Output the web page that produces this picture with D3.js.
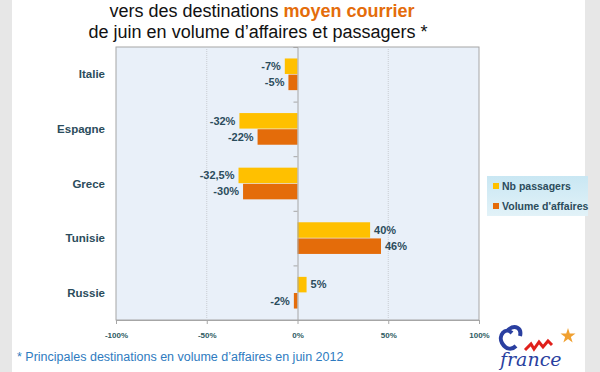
<!DOCTYPE html>
<html>
<head>
<meta charset="utf-8">
<script src="https://cdn.jsdelivr.net/npm/d3@7"></script>
<style>
  body { margin: 0; background: #e7e7e7; }
  svg { display: block; }
</style>
</head>
<body>
<svg id="chart" width="600" height="372"></svg>
<script>
const categories = ['Italie', 'Espagne', 'Grece', 'Tunisie', 'Russie'];
const seriesNames = ['Nb passagers', "Volume d'affaires"];
const passagers = [-7, -32, -32.5, 40, 5];
const affaires = [-5, -22, -30, 46, -2];
const passagersLabels = ['-7%', '-32%', '-32,5%', '40%', '5%'];
const affairesLabels = ['-5%', '-22%', '-30%', '46%', '-2%'];
const ticks = [-100, -50, 0, 50, 100];

const colors = ['#ffc000', '#e46c0a'];
const textColor = '#2b4c5c';

const svg = d3.select('#chart');

// page
svg.append('rect').attr('x', 12).attr('y', 0).attr('width', 573).attr('height', 372).attr('fill', '#ffffff');

// title
const title = svg.append('g').attr('font-family', 'Liberation Sans, Arial, sans-serif').attr('font-size', 18).attr('text-anchor', 'middle');
const t1 = title.append('text').attr('x', 262).attr('y', 17).attr('fill', '#111');
t1.append('tspan').text('vers des destinations ');
t1.append('tspan').attr('fill', '#e46c0a').attr('font-weight', 'bold').text('moyen courrier');
title.append('text').attr('x', 258).attr('y', 38).attr('fill', '#111').text('de juin en volume d\u2019affaires et passagers *');

const plot = { left: 116, top: 47, right: 479, bottom: 320 };

const x = d3.scaleLinear().domain([-100, 100]).range([plot.left, plot.right]);
const y = d3.scaleBand().domain(categories).range([plot.top, plot.bottom]).paddingInner(0.42).paddingOuter(0.21);
const ySub = d3.scaleBand().domain([0, 1]).range([0, y.bandwidth()]).paddingInner(0.04);

svg.append('rect')
  .attr('x', plot.left).attr('y', plot.top)
  .attr('width', plot.right - plot.left).attr('height', plot.bottom - plot.top)
  .attr('fill', '#e9f0f9').attr('stroke', '#a6a6a6').attr('stroke-width', 1);

// gridlines
svg.append('g').selectAll('line')
  .data(ticks.filter(d => d !== 0 && Math.abs(d) !== 100))
  .join('line')
  .attr('x1', d => x(d)).attr('x2', d => x(d))
  .attr('y1', plot.top).attr('y2', plot.bottom)
  .attr('stroke', '#c8ccd2').attr('stroke-dasharray', '1,1');

// bars
const series = [passagers, affaires];
const labels = [passagersLabels, affairesLabels];
series.forEach((vals, s) => {
  const g = svg.append('g');
  g.selectAll('rect')
    .data(vals)
    .join('rect')
    .attr('x', d => x(Math.min(0, d)))
    .attr('y', (d, i) => y(categories[i]) + ySub(s))
    .attr('width', d => Math.abs(x(d) - x(0)))
    .attr('height', ySub.bandwidth())
    .attr('fill', colors[s]);
  g.selectAll('text')
    .data(vals)
    .join('text')
    .attr('x', d => d < 0 ? x(d) - 4 : x(d) + 4)
    .attr('y', (d, i) => y(categories[i]) + ySub(s) + ySub.bandwidth() / 2)
    .attr('dy', '0.35em')
    .attr('text-anchor', d => d < 0 ? 'end' : 'start')
    .attr('font-family', 'Liberation Sans, Arial, sans-serif')
    .attr('font-size', 11).attr('font-weight', 'bold')
    .attr('fill', textColor)
    .text((d, i) => labels[s][i]);
});

// zero axis with category ticks
const yAxis = svg.append('g')
  .attr('transform', `translate(${x(0)},0)`)
  .call(d3.axisLeft(d3.scaleLinear().domain([0, 5]).range([plot.top, plot.bottom])).ticks(5).tickSize(4).tickFormat(''));
yAxis.select('.domain').attr('stroke', '#a6a6a6');
yAxis.selectAll('.tick line').attr('stroke', '#a6a6a6');

// category labels
svg.append('g').selectAll('text')
  .data(categories)
  .join('text')
  .attr('x', 105)
  .attr('y', d => y(d) + y.bandwidth() / 2)
  .attr('dy', '0.35em')
  .attr('text-anchor', 'end')
  .attr('font-family', 'Liberation Sans, Arial, sans-serif')
  .attr('font-size', 11.5).attr('font-weight', 'bold')
  .attr('fill', textColor)
  .text(d => d);

// x axis
const xAxis = svg.append('g')
  .attr('transform', `translate(0,${plot.bottom})`)
  .call(d3.axisBottom(x).tickValues(ticks).tickSize(4).tickFormat(d => d + '%'));
xAxis.select('.domain').attr('stroke', '#a6a6a6');
xAxis.selectAll('.tick line').attr('stroke', '#a6a6a6');
xAxis.selectAll('.tick text')
  .attr('y', 12)
  .attr('font-family', 'Liberation Sans, Arial, sans-serif')
  .attr('font-size', 8).attr('font-weight', 'bold')
  .attr('fill', '#2e5b62');

// legend
const legend = svg.append('g').attr('transform', 'translate(487,176)');
const grad = svg.append('defs').append('linearGradient').attr('id', 'lg').attr('x1', 0).attr('x2', 0).attr('y1', 0).attr('y2', 1);
grad.append('stop').attr('offset', 0).attr('stop-color', '#c9e7f3');
grad.append('stop').attr('offset', 1).attr('stop-color', '#e2f2f8');
legend.append('rect').attr('width', 101).attr('height', 40).attr('fill', 'url(#lg)');
seriesNames.forEach((name, i) => {
  legend.append('rect').attr('x', 6).attr('y', 7 + i * 20).attr('width', 6).attr('height', 6).attr('fill', colors[i]);
  legend.append('text').attr('x', 15).attr('y', 10 + i * 20).attr('dy', '0.35em')
    .attr('font-family', 'Liberation Sans, Arial, sans-serif')
    .attr('font-size', 10.5).attr('font-weight', 'bold')
    .attr('fill', textColor).text(name);
});

// footnote
svg.append('text').attr('x', 17).attr('y', 361)
  .attr('font-family', 'Liberation Sans, Arial, sans-serif')
  .attr('font-size', 12.5).attr('fill', '#2e7bc0')
  .text('* Principales destinations  en volume d\u2019affaires en juin 2012');

// logo (rough)
const logo = svg.append('g');
logo.append('path').attr('d', 'M512,333 C505,326 498,336 502,343 C506,350 512,350 516,346 M508,330 C515,324 522,328 520,336')
  .attr('fill', 'none').attr('stroke', '#2a3fa0').attr('stroke-width', 4);
logo.append('path').attr('d', 'M525,350 l6,-6 l3,5 l5,-7 l4,5 l5,-6 l4,4')
  .attr('fill', 'none').attr('stroke', '#e0201b').attr('stroke-width', 3);
logo.append('path').attr('d', d3.symbol(d3.symbolStar, 70)())
  .attr('transform', 'translate(568,336)').attr('fill', '#f0a030');
logo.append('text').attr('x', 500).attr('y', 366)
  .attr('font-family', 'DejaVu Serif, serif').attr('font-style', 'italic')
  .attr('font-size', 19).attr('fill', '#2a3fa0').text('france');
</script>
</body>
</html>
